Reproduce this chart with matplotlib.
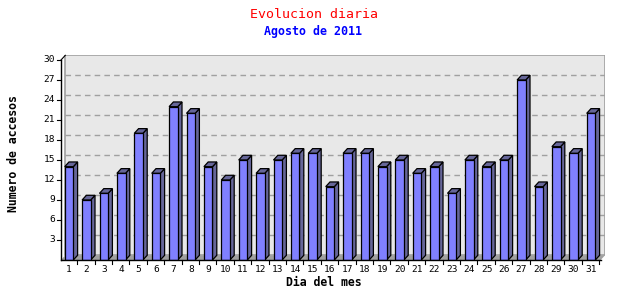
import matplotlib
matplotlib.use('Agg')
import matplotlib.pyplot as plt
from matplotlib.patches import Polygon, Rectangle

# data
dias = list(range(1, 32))
accesos = [14, 9, 10, 13, 19, 13, 23, 22, 14, 12, 15, 13, 15, 16, 16, 11,
           16, 16, 14, 15, 13, 14, 10, 15, 14, 15, 27, 11, 17, 16, 22]
yticks = [3, 6, 9, 12, 15, 18, 21, 24, 27, 30]

titulo = 'Evolucion diaria'
subtitulo = 'Agosto de 2011'
xlabel = 'Dia del mes'
ylabel = 'Numero de accesos'

mono = 'DejaVu Sans Mono'
W, H = 640, 300
fig = plt.figure(figsize=(6.4, 3.0), dpi=100)

# axes box in pixels (front frame left/bottom, back wall right/top)
left_px, right_px, top_px, bot_px = 61, 605, 55, 260
ax = fig.add_axes([left_px / W, (H - bot_px) / H,
                   (right_px - left_px) / W, (bot_px - top_px) / H])

ppu_y = 200 / 30.0          # pixels per unit on y
ppu_x = 17.4                # pixels per day
x0 = 1 + (left_px - 69) / ppu_x
x1 = 1 + (right_px - 69) / ppu_x
ymax = (bot_px - top_px) / ppu_y
ax.set_xlim(x0, x1)
ax.set_ylim(0, ymax)
ax.axis('off')

dx = 4.3 / ppu_x
dy = 4.7 / ppu_y
xf1 = x1 - dx               # right end of front frame

# back wall
ax.add_patch(Rectangle((x0 + dx, dy), xf1 - x0, ymax - dy,
                       facecolor='#e8e8e8', edgecolor='#a0a0a0', lw=1.2, zorder=1))
# floor
ax.add_patch(Polygon([(x0, 0), (xf1, 0), (xf1 + dx, dy), (x0 + dx, dy)],
                     closed=True, facecolor='#a0a0a0', edgecolor='none', zorder=2))
# gridlines on the wall
for v in yticks[:-1]:
    ax.plot([x0 + dx, x1], [v + dy, v + dy], color='#a0a0a0', lw=1,
            ls=(0, (4, 3)), zorder=1.5)

# bars
bw = 8.6 / ppu_x
front = '#8080ff'
dark = '#666699'
for d, v in zip(dias, accesos):
    xl = d - bw / 2
    xr = d + bw / 2
    ax.add_patch(Polygon([(xr, 0), (xr + dx, dy), (xr + dx, v + dy), (xr, v)],
                         closed=True, facecolor=dark, edgecolor='black', lw=0.9, zorder=3))
    ax.add_patch(Polygon([(xl, v), (xr, v), (xr + dx, v + dy), (xl + dx, v + dy)],
                         closed=True, facecolor=dark, edgecolor='black', lw=0.9, zorder=3))
    ax.add_patch(Rectangle((xl, 0), bw, v, facecolor=front, edgecolor='black',
                           lw=0.9, zorder=4))

# front axes lines
ax.plot([x0, x0], [0, 30], color='black', lw=1, zorder=5, clip_on=False)
ax.plot([x0, x0 + dx], [30, 30 + dy], color='black', lw=0.8, zorder=5, clip_on=False)
ax.plot([x0, xf1], [0, 0], color='black', lw=1, zorder=5, clip_on=False)

# y ticks
tick_x = 4 / ppu_x
for v in yticks:
    ax.plot([x0 - tick_x, x0], [v, v], color='black', lw=0.8, zorder=5, clip_on=False)
    ax.text(x0 - 6 / ppu_x, v, str(v), ha='right', va='center',
            family=mono, fontsize=6.8, clip_on=False)

# x ticks (between bars) and labels
tick_y = 4 / ppu_y
for d in dias:
    ax.plot([d + 0.47, d + 0.47], [0, -tick_y], color='black', lw=0.8, zorder=5, clip_on=False)
    ax.text(d, -9.5 / ppu_y, str(d), ha='center', va='center',
            family=mono, fontsize=6.8, clip_on=False)

fig.text(324 / W, 1 - 282 / H, xlabel, ha='center', va='center',
         family=mono, fontsize=8.3, fontweight='bold')
fig.text(14 / W, 1 - 154 / H, ylabel, ha='center', va='center', rotation=90,
         family=mono, fontsize=8.3, fontweight='bold')
fig.text(314 / W, 1 - 14 / H, titulo, ha='center', va='center',
         family=mono, fontsize=9.5, color='red')
fig.text(313 / W, 1 - 32 / H, subtitulo, ha='center', va='center',
         family=mono, fontsize=8.4, fontweight='bold', color='blue')

fig.savefig('out.png', dpi=100, facecolor='white')
